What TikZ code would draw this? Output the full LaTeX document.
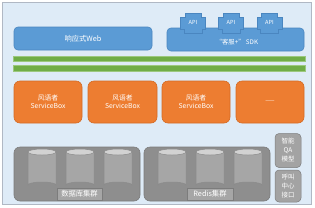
\documentclass[tikz,border=0pt]{standalone}
\usepackage{fontspec}
\setmainfont{Noto Sans CJK SC}
\definecolor{framefill}{HTML}{DEEBF7}
\definecolor{frameline}{HTML}{B0B8C4}
\definecolor{bluefill}{HTML}{5B9BD5}
\definecolor{blueline}{HTML}{4A86C0}
\definecolor{orangefill}{HTML}{ED7D31}
\definecolor{orangeline}{HTML}{D46A24}
\definecolor{greenfill}{HTML}{70AD47}
\definecolor{greenline}{HTML}{9CC87E}
\definecolor{clusterfill}{HTML}{8E8E8E}
\definecolor{clusterline}{HTML}{7C7C7C}
\definecolor{cylbody}{HTML}{A6A6A6}
\definecolor{cyltop}{HTML}{D2D2D2}
\definecolor{cylline}{HTML}{8A8A8A}
\definecolor{sidefill}{HTML}{A3A3A3}
\tikzset{
  bluebox/.style={draw=blueline, fill=bluefill, rounded corners=4pt, line width=0.6pt, text=white, font=\fontsize{7.3}{8.5}\selectfont},
  orangebox/.style={draw=orangeline, fill=orangefill, rounded corners=6pt, line width=0.6pt, text=white, align=center, font=\fontsize{6.8}{8.3}\selectfont, minimum width=68pt, minimum height=42pt, inner sep=0pt},
  greenbar/.style={draw=greenline, fill=greenfill, line width=0.6pt},
  clusterbox/.style={draw=clusterline, fill=clusterfill, rounded corners=6pt, line width=0.6pt},
  labelbox/.style={draw=clusterline, fill=cylbody, line width=0.5pt, text=white, font=\fontsize{7.3}{8}\selectfont, minimum width=45pt, minimum height=12pt, inner sep=0pt},
  sidebox/.style={draw=clusterline, fill=sidefill, rounded corners=4pt, line width=0.5pt, text=white, align=center, font=\fontsize{6.5}{9}\selectfont, minimum width=26pt, inner sep=0pt},
  apitext/.style={text=white, font=\fontsize{5.6}{6.5}\selectfont, inner sep=0pt},
  cylshape/.style={draw=cylline, fill=cylbody, line width=0.5pt},
  cyltopshape/.style={draw=cylline, fill=cyltop, line width=0.5pt}
}
\begin{document}
\begin{tikzpicture}[x=1pt,y=-1pt]
\useasboundingbox (0,0) rectangle (315,207);
% frame
\fill[white] (0,0) rectangle (315,207);
\draw[draw=frameline, fill=framefill, line width=0.6pt] (2.5,2.5) rectangle (311,204);
% top row
\node[bluebox, minimum width=138pt, minimum height=23pt, inner sep=0pt] (web) at (83,38.5) {响应式Web};
\node[bluebox, minimum width=137pt, minimum height=23pt, inner sep=0pt] (sdk) at (235.5,39.5) {};
\foreach \cx/\nm in {193/apiA,231/apiB,269.5/apiC}{
  \draw[draw=blueline, fill=bluefill, line width=0.6pt]
    (\cx-8,13) -- (\cx+8,13) -- (\cx+8,17) -- (\cx+12.5,17) -- (\cx+12.5,29) -- (\cx+9,29) -- (\cx+9,33)
    -- (\cx-9,33) -- (\cx-9,29) -- (\cx-12.5,29) -- (\cx-12.5,17) -- (\cx-8,17) -- cycle;
  \node[apitext] (\nm) at (\cx,22.5) {API};
}
\node[text=white, font=\fontsize{6.3}{7.5}\selectfont, inner sep=0pt] (sdktext) at (237,42.5) {“客服+” SDK};
% green bars
\draw[greenbar] (13,56) rectangle (305,61.5) node[pos=0.5, inner sep=0pt] (bar1) {};
\draw[greenbar] (13,65) rectangle (305,71) node[pos=0.5, inner sep=0pt] (bar2) {};
% orange row
\node[orangebox] (sb1) at (48,102) {风语者\\ServiceBox};
\node[orangebox, minimum width=69pt] (sb2) at (122.5,102) {风语者\\ServiceBox};
\node[orangebox] (sb3) at (196,102) {风语者\\ServiceBox};
\node[orangebox] (sb4) at (270,102) {\fontsize{5.5}{6}\selectfont ——};
% clusters
\node[clusterbox, minimum width=126pt, minimum height=54pt, inner sep=0pt] (dbc) at (77,174) {};
\node[clusterbox, minimum width=126pt, minimum height=54pt, inner sep=0pt] (rdc) at (207,174) {};
\foreach \ox in {14,144}{
  \foreach \dx in {28,66,104}{
    \pgfmathsetmacro{\cx}{\ox+\dx}
    \draw[cylshape] (\cx-14,152) -- (\cx-14,185) arc[start angle=180, end angle=360, x radius=14, y radius=3] -- (\cx+14,152);
    \draw[cyltopshape] (\cx,152) ellipse[x radius=14, y radius=3];
  }
}
\node[labelbox] (dbl) at (79.5,194) {数据库集群};
\node[labelbox, minimum width=46pt] (rdl) at (210,194) {Redis集群};
% side boxes
\node[sidebox, minimum height=34pt] (qa) at (288,150.5) {智能\\QA\\模型};
\node[sidebox, minimum height=32pt] (cc) at (288,186) {呼叫\\中心\\接口};
\end{tikzpicture}
\end{document}
